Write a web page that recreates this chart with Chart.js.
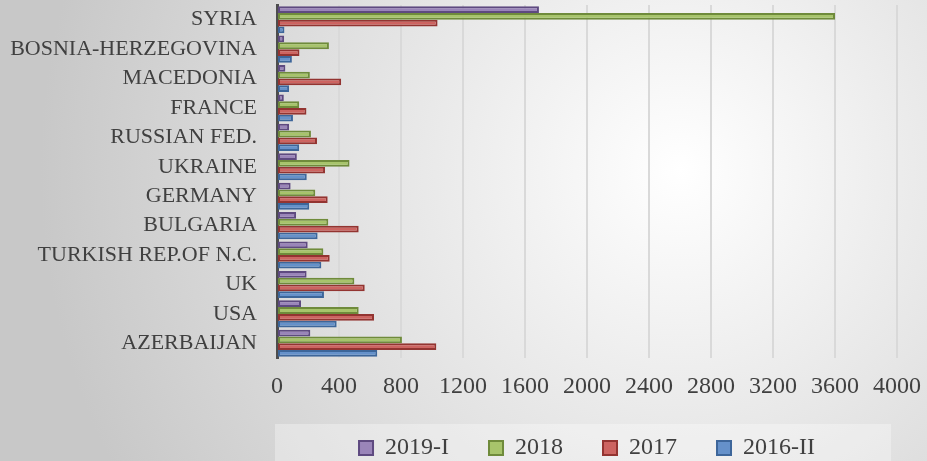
<!DOCTYPE html>
<html>
<head>
<meta charset="utf-8">
<script src="https://cdn.jsdelivr.net/npm/chart.js@4"></script>
<style>
  html, body { margin: 0; padding: 0; background: #fff; }
  canvas { display: block; }
</style>
</head>
<body>
<canvas id="chart" width="927" height="461"></canvas>
<script>
// categories, top to bottom
const countries = ['SYRIA', 'BOSNIA-HERZEGOVINA', 'MACEDONIA', 'FRANCE', 'RUSSIAN FED.', 'UKRAINE',
  'GERMANY', 'BULGARIA', 'TURKISH REP.OF N.C.', 'UK', 'USA', 'AZERBAIJAN'];

const v2019I = [1690, 46, 54, 44, 78, 128, 88, 123, 198, 191, 155, 215];
const v2018 = [3600, 335, 212, 143, 219, 468, 247, 331, 299, 499, 527, 806];
const v2017 = [1036, 145, 414, 190, 258, 310, 327, 527, 340, 566, 626, 1028];
const v2016II = [48, 96, 78, 103, 143, 192, 208, 262, 286, 303, 385, 647];

const xMin = 0;
const xMax = 4000;
const xStep = 400;

Chart.defaults.font.family = "'Liberation Serif', 'Times New Roman', serif";
Chart.defaults.color = '#404040';

// grey radial backdrop plus the lighter legend band
const backdrop = {
  id: 'backdrop',
  beforeDraw(chart) {
    const { ctx, width, height, chartArea, legend } = chart;
    ctx.save();
    const g = ctx.createRadialGradient(680, 170, 0, 680, 170, 640);
    g.addColorStop(0, '#ffffff');
    g.addColorStop(1, '#c8c8c8');
    ctx.fillStyle = g;
    ctx.fillRect(0, 0, width, height);
    if (legend && legend.legendHitBoxes.length) {
      const top = legend.legendHitBoxes[0].top - 12;
      ctx.fillStyle = 'rgba(255,255,255,0.32)';
      ctx.fillRect(chartArea.left - 2, top, chartArea.right - chartArea.left - 4, height - top);
    }
    ctx.restore();
  },
};

function ds(label, data, fill, border) {
  return {
    label,
    data,
    backgroundColor: fill,
    borderColor: border,
    borderWidth: 2,
    borderSkipped: false,
    categoryPercentage: 0.92,
    barPercentage: 1,
  };
}

new Chart(document.getElementById('chart'), {
  type: 'bar',
  data: {
    labels: countries,
    datasets: [
      ds('2019-I', v2019I, '#9a85b9', '#5e4a80'),
      ds('2018', v2018, '#a7c46b', '#6f8b3b'),
      ds('2017', v2017, '#cd6461', '#933431'),
      ds('2016-II', v2016II, '#6591ca', '#3d669a'),
    ],
  },
  options: {
    indexAxis: 'y',
    responsive: false,
    animation: false,
    layout: { padding: { top: 5, right: 30, bottom: -9, left: 0 } },
    plugins: {
      legend: {
        position: 'bottom',
        fullSize: false,
        labels: {
          boxWidth: 14,
          boxHeight: 14,
          padding: 40,
          color: '#404040',
          font: { size: 24 },
        },
      },
      tooltip: { enabled: false },
    },
    scales: {
      x: {
        min: xMin,
        max: xMax,
        ticks: {
          stepSize: xStep,
          padding: 17,
          font: { size: 24, lineHeight: 1 },
          color: '#404040',
          callback: (v) => String(v),
        },
        grid: { color: '#d9d9d9', lineWidth: 2, drawTicks: false },
        border: { display: false },
        afterFit(scale) {
          scale.height = 38;
          scale.paddingLeft = 0;
          scale.paddingRight = 0;
        },
      },
      y: {
        ticks: { padding: 20, font: { size: 22 }, color: '#404040', autoSkip: false },
        grid: { display: false, drawTicks: false },
        border: { color: '#4d4d4d', width: 3 },
        afterFit(scale) {
          scale.width = 277;
          scale.paddingTop = 0;
          scale.paddingBottom = 0;
        },
      },
    },
  },
  plugins: [backdrop],
});
</script>
</body>
</html>
